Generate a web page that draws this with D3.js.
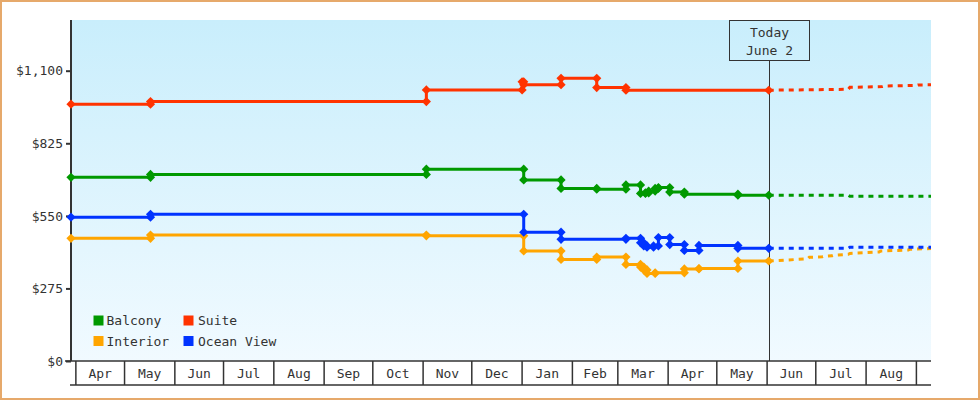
<!DOCTYPE html>
<html><head><meta charset="utf-8">
<script src="https://cdn.jsdelivr.net/npm/d3@7"></script>
<style>
body{margin:0;background:#fff}
svg{display:block}
text{font-family:"DejaVu Sans Mono",monospace;font-size:13px;fill:#333}
</style>
</head><body>
<svg id="c" width="980" height="400"></svg>
<script>
// ---------- data ----------
const domainStart = "2016-03-29";
const domainEnd   = "2017-09-10";
const todayDate   = "2017-06-02";
const todayLabel  = ["Today", "June 2"];
const yTicks = [0, 275, 550, 825, 1100];
const monthLabels = ["Apr","May","Jun","Jul","Aug","Sep","Oct","Nov","Dec","Jan","Feb","Mar","Apr","May","Jun","Jul","Aug"];
const legendNames = ["Balcony", "Suite", "Interior", "Ocean View"];

// price history: [date of change, new price]; first row = price at start
const balcony = [
  ["2016-03-29", 696], ["2016-05-17", 707], ["2016-11-03", 727], ["2017-01-02", 686],
  ["2017-01-25", 654], ["2017-02-16", 651], ["2017-03-06", 667], ["2017-03-15", 635],
  ["2017-03-18", 637], ["2017-03-20", 644], ["2017-03-24", 654], ["2017-03-26", 657],
  ["2017-04-02", 640], ["2017-04-11", 632], ["2017-05-14", 628]
];
const suite = [
  ["2016-03-29", 973], ["2016-05-17", 983], ["2016-11-03", 1027], ["2017-01-01", 1058],
  ["2017-01-02", 1047], ["2017-01-25", 1071], ["2017-02-16", 1036], ["2017-03-06", 1026]
];
const interior = [
  ["2016-03-29", 465], ["2016-05-17", 477], ["2016-11-03", 474.5], ["2017-01-02", 417],
  ["2017-01-25", 385], ["2017-02-16", 394], ["2017-03-06", 366], ["2017-03-15", 356],
  ["2017-03-17", 345], ["2017-03-19", 332], ["2017-03-24", 334], ["2017-04-11", 349],
  ["2017-04-20", 350.5], ["2017-05-14", 379]
];
const oceanView = [
  ["2016-03-29", 545], ["2016-05-17", 556], ["2017-01-02", 488], ["2017-01-25", 461],
  ["2017-03-06", 465], ["2017-03-15", 448], ["2017-03-17", 436], ["2017-03-19", 431],
  ["2017-03-23", 436], ["2017-03-26", 468], ["2017-04-02", 441], ["2017-04-11", 419],
  ["2017-04-20", 438], ["2017-05-14", 427]
];
// forecast after today
const balconyForecast = [["2017-06-02", 628], ["2017-07-21", 628], ["2017-07-22", 624], ["2017-09-10", 624]];
const suiteForecast = [
  ["2017-06-02", 1026], ["2017-07-21", 1029.5], ["2017-07-22", 1037], ["2017-08-11", 1040],
  ["2017-08-12", 1042], ["2017-09-01", 1044.5], ["2017-09-02", 1046], ["2017-09-10", 1046.5]
];
const interiorForecast = [
  ["2017-06-02", 379], ["2017-06-26", 387], ["2017-06-27", 393], ["2017-07-05", 395],
  ["2017-07-06", 397], ["2017-07-11", 398.5], ["2017-07-12", 400.5], ["2017-07-21", 404.5],
  ["2017-07-22", 407.5], ["2017-08-09", 413], ["2017-08-10", 417], ["2017-08-27", 420.5],
  ["2017-08-28", 423.5], ["2017-09-10", 426]
];
const oceanViewForecast = [["2017-06-02", 427], ["2017-07-21", 427], ["2017-07-22", 431], ["2017-09-10", 431]];

// ---------- styles ----------
const colors = {"Balcony":"#009900","Suite":"#ff3300","Interior":"#ffa500","Ocean View":"#0033ff"};
const series = [
  {name:"Interior", hist:interior, fc:interiorForecast},
  {name:"Ocean View", hist:oceanView, fc:oceanViewForecast},
  {name:"Balcony", hist:balcony, fc:balconyForecast},
  {name:"Suite", hist:suite, fc:suiteForecast}
];

const parse = d3.utcParse("%Y-%m-%d");
const L = 71, R = 931, T = 20, B = 361;
const x = d3.scaleUtc().domain([parse(domainStart), parse(domainEnd)]).range([L, R]);
const y = d3.scaleLinear().domain([0, 1100]).range([B, 70.7]);
const tDay = parse(todayDate);

const svg = d3.select("#c");
const defs = svg.append("defs");
const grad = defs.append("linearGradient").attr("id","bg").attr("x1",0).attr("y1",0).attr("x2",0).attr("y2",1);
grad.append("stop").attr("offset","0%").attr("stop-color","#c9eefc");
grad.append("stop").attr("offset","100%").attr("stop-color","#f1faff");

// outer border
svg.append("rect").attr("x",1).attr("y",1).attr("width",978).attr("height",398)
  .attr("fill","#fff").attr("stroke","#e6a96b").attr("stroke-width",2);

// plot background
svg.append("rect").attr("x",L).attr("y",T).attr("width",R-L).attr("height",B-T).attr("fill","url(#bg)");

// month axis box
const months = d3.utcMonth.range(d3.utcMonth.ceil(x.domain()[0]), x.domain()[1]);
const ax = svg.append("g").attr("stroke","#333").attr("stroke-width",1.5);
ax.append("line").attr("x1",65).attr("x2",R).attr("y1",B).attr("y2",B);
ax.append("line").attr("x1",70).attr("x2",R).attr("y1",385).attr("y2",385);
ax.selectAll("line.m").data(months).join("line").attr("class","m")
  .attr("x1",d=>x(d)).attr("x2",d=>x(d)).attr("y1",B).attr("y2",385);
const labelled = months.filter(d => d3.utcMonth.offset(d,1) <= x.domain()[1]);
svg.append("g").selectAll("text").data(labelled).join("text")
  .attr("x",d=>(x(d)+x(d3.utcMonth.offset(d,1)))/2).attr("y",373).attr("dy","0.35em")
  .attr("text-anchor","middle").text((d,i)=>monthLabels[i]);

// y axis
const yAxis = d3.axisLeft(y).tickValues(yTicks).tickSize(5).tickPadding(3)
  .tickFormat(d => "$" + d3.format(",")(d));
const yg = svg.append("g").attr("transform",`translate(${L},0)`).call(yAxis);
yg.select(".domain").remove();
yg.selectAll(".tick line").attr("stroke","#333").attr("stroke-width",2);
yg.selectAll(".tick text").attr("font-family","DejaVu Sans Mono").attr("font-size",13).attr("fill","#333");
svg.append("line").attr("x1",L).attr("x2",L).attr("y1",T).attr("y2",B).attr("stroke","#333").attr("stroke-width",2);

// today marker
const tx = Math.round(x(tDay)) + 0.5;
svg.append("line").attr("x1",tx).attr("x2",tx).attr("y1",60.5).attr("y2",B).attr("stroke","#333").attr("stroke-width",1);
svg.append("rect").attr("x",tx-40).attr("y",20.5).attr("width",80).attr("height",40)
  .attr("fill","none").attr("stroke","#333").attr("stroke-width",1);
svg.append("g").selectAll("text").data(todayLabel).join("text")
  .attr("x",tx).attr("y",(d,i)=>32.5+i*17.5).attr("dy","0.35em").attr("text-anchor","middle").text(d=>d);

// series
const line = d3.line().x(d=>x(d[0])).y(d=>y(d[1]));
const diamond = "M0,-4.6L4.6,0L0,4.6L-4.6,0Z";
series.forEach(s => {
  const c = colors[s.name];
  const h = s.hist.map(r => [parse(r[0]), r[1]]);
  const pts = [h[0]], marks = [h[0]];
  for (let i = 1; i < h.length; i++) {
    const a = [h[i][0], h[i-1][1]], b = [h[i][0], h[i][1]];
    pts.push(a, b); marks.push(a, b);
  }
  const last = [tDay, h[h.length-1][1]];
  pts.push(last); marks.push(last);
  const fc = s.fc.map(r => [parse(r[0]), r[1]]);
  svg.append("path").attr("d", line(fc)).attr("fill","none").attr("stroke",c)
    .attr("stroke-width",3).attr("stroke-dasharray","5,5");
  svg.append("path").attr("d", line(pts)).attr("fill","none").attr("stroke",c).attr("stroke-width",3);
  svg.append("g").selectAll("path").data(marks).join("path")
    .attr("d",diamond).attr("fill",c)
    .attr("transform",d=>`translate(${x(d[0])},${y(d[1])})`);
});

// legend
const lg = svg.append("g");
legendNames.forEach((n,i) => {
  const col = i % 2, row = Math.floor(i/2);
  const lx = 93.5 + col*90, ly = 315.5 + row*20.5;
  lg.append("rect").attr("x",lx).attr("y",ly).attr("width",10).attr("height",10).attr("fill",colors[n]);
  lg.append("text").attr("x",lx + (col ? 14.5 : 13)).attr("y",ly+5).attr("dy","0.35em").text(n);
});
</script>
</body></html>
